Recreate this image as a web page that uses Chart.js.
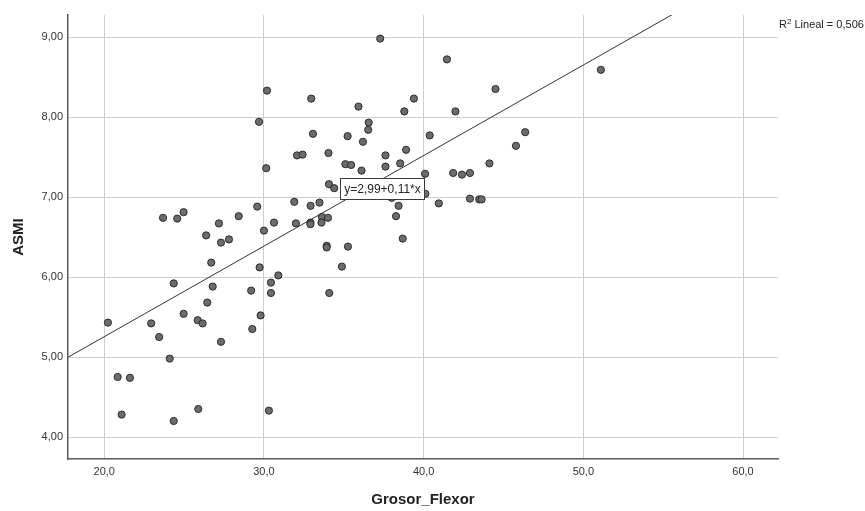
<!DOCTYPE html>
<html lang="es">
<head>
<meta charset="utf-8">
<title>ASMI - Grosor_Flexor</title>
<script src="https://cdn.jsdelivr.net/npm/chart.js@4.4.1/dist/chart.umd.min.js"></script>
<style>
  html, body { margin: 0; padding: 0; background: #ffffff; }
  #contenedor { width: 865px; height: 511px; position: relative; }
</style>
</head>
<body>
<div id="contenedor"><canvas id="graficoDispersion"></canvas></div>
<script>
// Grosor del flexor de cada sujeto (eje X)
const grosorFlexor = [
  30.19, 29.69, 30.14, 29.58, 28.42, 27.18, 24.97, 24.57, 23.68, 30.00,
  26.38, 37.28, 32.96, 35.92, 39.39, 38.79, 36.56, 36.53, 33.07, 35.24,
  40.38, 36.20, 32.07, 32.42, 34.04, 38.90, 37.61, 35.10, 35.46, 37.61,
  38.53, 36.11, 40.09, 34.07, 34.40, 40.11, 38.00, 31.90, 33.48, 32.92,
  38.43, 40.95, 33.63, 34.01, 38.27, 30.63, 32.00, 32.91, 32.91, 33.60,
  27.31, 27.81, 26.70, 29.73, 24.35, 26.79, 29.20, 30.44, 30.44, 26.45,
  24.97, 25.85, 26.16, 20.23, 22.94, 29.79, 29.27, 23.44, 27.31, 24.10,
  20.84, 21.61, 21.09, 25.89, 24.35, 30.31, 33.93, 33.93, 35.26, 38.69,
  34.88, 30.90, 34.09, 41.46, 44.50, 41.99, 51.10, 46.36, 45.78, 44.12,
  41.85, 42.40, 42.90, 42.90, 43.48, 43.63
];

// ASMI de cada sujeto (eje Y)
const asmi = [
  8.33, 7.94, 7.36, 6.88, 6.76, 6.67, 6.81, 6.73, 6.74, 6.58,
  6.52, 8.98, 8.23, 8.13, 8.23, 8.07, 7.93, 7.84, 7.79, 7.76,
  7.77, 7.69, 7.52, 7.53, 7.55, 7.59, 7.52, 7.41, 7.40, 7.38,
  7.42, 7.33, 7.29, 7.16, 7.11, 7.04, 6.99, 6.94, 6.93, 6.89,
  6.89, 6.92, 6.75, 6.74, 6.76, 6.68, 6.67, 6.68, 6.66, 6.68,
  6.43, 6.47, 6.18, 6.12, 5.92, 5.88, 5.83, 5.93, 5.80, 5.68,
  5.54, 5.46, 5.42, 5.43, 5.42, 5.52, 5.35, 5.25, 5.19, 4.98,
  4.75, 4.74, 4.28, 4.35, 4.20, 4.33, 6.39, 6.37, 6.38, 6.48,
  6.13, 6.02, 5.80, 8.72, 8.35, 8.07, 8.59, 7.81, 7.64, 7.42,
  7.30, 7.28, 7.30, 6.98, 6.97, 6.97
];

const ticksX = [20, 30, 40, 50, 60];
const ticksY = [4, 5, 6, 7, 8, 9];

// Recta de ajuste lineal
const intercepto = 2.99;
const pendiente = 0.1132;
const r2 = 0.506;

const limX = [17.73, 62.19];
const limY = [3.725, 9.275];

const coma = (v, d) => v.toFixed(d).replace('.', ',');

const puntos = grosorFlexor.map((g, i) => ({ x: g, y: asmi[i] }));
const recta = limX.map(g => ({ x: g, y: intercepto + pendiente * g }));

const fuente = '"Liberation Sans", Arial, sans-serif';

// Recuadro con la ecuación y texto del R² fuera del área
const anotaciones = {
  id: 'anotaciones',
  afterDatasetsDraw(chart) {
    const { ctx, scales: { x, y }, chartArea } = chart;
    ctx.save();

    const texto = 'y=' + coma(intercepto, 2) + '+' + coma(pendiente, 2) + '*x';
    ctx.font = '12px ' + fuente;
    const w = Math.round(ctx.measureText(texto).width + 7);
    const h = 21;
    const cx = x.getPixelForValue(37.42);
    const cy = y.getPixelForValue(7.106);
    const bx = Math.round(cx - w / 2) + 0.5;
    const by = Math.round(cy - h / 2) + 0.5;
    ctx.fillStyle = '#ffffff';
    ctx.fillRect(bx, by, w, h);
    ctx.strokeStyle = '#3a3a3a';
    ctx.lineWidth = 1;
    ctx.strokeRect(bx, by, w, h);
    ctx.fillStyle = '#222222';
    ctx.textAlign = 'center';
    ctx.textBaseline = 'middle';
    ctx.fillText(texto, bx + w / 2, by + h / 2 + 1);

    // R² Lineal
    let tx = chartArea.right + 1;
    const base = 28;
    ctx.textAlign = 'left';
    ctx.textBaseline = 'alphabetic';
    ctx.font = '11px ' + fuente;
    ctx.fillText('R', tx, base);
    tx += ctx.measureText('R').width;
    ctx.font = '8px ' + fuente;
    ctx.fillText('2', tx, base - 4);
    tx += ctx.measureText('2').width;
    ctx.font = '11px ' + fuente;
    ctx.fillText(' Lineal = ' + coma(r2, 3), tx, base);

    ctx.restore();
  }
};

const ctx = document.getElementById('graficoDispersion').getContext('2d');

new Chart(ctx, {
  type: 'scatter',
  data: {
    datasets: [
      {
        type: 'line',
        label: 'Lineal',
        data: recta,
        borderColor: '#333333',
        borderWidth: 1,
        pointRadius: 0,
        fill: false
      },
      {
        label: 'ASMI',
        data: puntos,
        backgroundColor: '#6c6c6c',
        borderColor: '#2b2b2b',
        borderWidth: 1,
        pointRadius: 3.6,
        pointHoverRadius: 3.6
      }
    ]
  },
  options: {
    responsive: true,
    maintainAspectRatio: false,
    animation: false,
    layout: { padding: { left: 0, right: 87, top: 15, bottom: 0 } },
    plugins: {
      legend: { display: false },
      tooltip: { enabled: false }
    },
    scales: {
      x: {
        type: 'linear',
        min: limX[0],
        max: limX[1],
        afterBuildTicks: s => { s.ticks = ticksX.map(v => ({ value: v })); },
        afterFit: s => { s.height = 52; },
        grid: { color: '#cfcfcf', lineWidth: 1, drawTicks: false },
        border: { color: '#5a5a5a', width: 1.5 },
        ticks: {
          padding: 6,
          color: '#333333',
          font: { family: fuente, size: 11 },
          callback: v => coma(v, 1)
        },
        title: {
          display: true,
          text: 'Grosor_Flexor',
          color: '#222222',
          font: { family: fuente, size: 15, weight: 'bold' },
          padding: { top: 0, bottom: 2 }
        }
      },
      y: {
        type: 'linear',
        min: limY[0],
        max: limY[1],
        afterBuildTicks: s => { s.ticks = ticksY.map(v => ({ value: v })); },
        afterFit: s => { s.width = 68; },
        grid: { color: '#cfcfcf', lineWidth: 1, drawTicks: false },
        border: { color: '#5a5a5a', width: 1.5 },
        ticks: {
          padding: 5,
          color: '#333333',
          font: { family: fuente, size: 11 },
          callback: v => coma(v, 2)
        },
        title: {
          display: true,
          text: 'ASMI',
          color: '#222222',
          font: { family: fuente, size: 15, weight: 'bold' },
          padding: { top: 10, bottom: 0 }
        }
      }
    }
  },
  plugins: [anotaciones]
});
</script>
</body>
</html>
